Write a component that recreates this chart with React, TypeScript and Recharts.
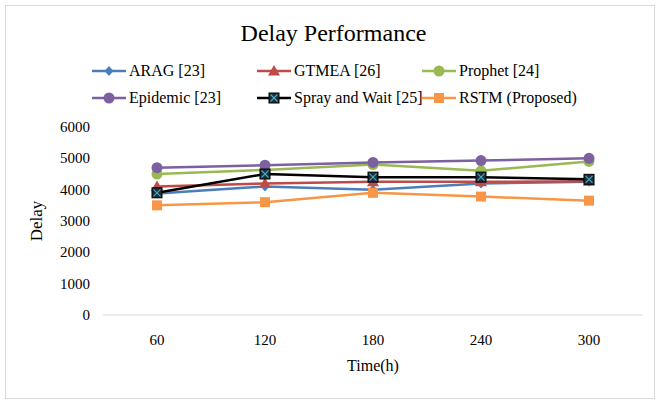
import { LineChart, Line, XAxis, YAxis } from 'recharts';

const times = ['60', '120', '180', '240', '300'];
const arag = [3880, 4100, 4000, 4200, 4250];
const gtmea = [4100, 4200, 4250, 4250, 4270];
const prophet = [4500, 4630, 4800, 4600, 4900];
const epidemic = [4700, 4780, 4870, 4930, 5000];
const sprayWait = [3900, 4500, 4400, 4400, 4330];
const rstm = [3500, 3600, 3900, 3780, 3650];
const yTicks = [0, 1000, 2000, 3000, 4000, 5000, 6000];

const data = times.map((t, i) => ({
  time: t,
  arag: arag[i],
  gtmea: gtmea[i],
  prophet: prophet[i],
  epidemic: epidemic[i],
  spray: sprayWait[i],
  rstm: rstm[i],
}));

type Shape = 'diamond' | 'triangle' | 'circle' | 'square' | 'squareX';

const series: { key: string; name: string; color: string; shape: Shape }[] = [
  { key: 'arag', name: 'ARAG [23]', color: '#4a7ebb', shape: 'diamond' },
  { key: 'gtmea', name: 'GTMEA [26]', color: '#be4b48', shape: 'triangle' },
  { key: 'prophet', name: 'Prophet [24]', color: '#98b954', shape: 'circle' },
  { key: 'epidemic', name: 'Epidemic [23]', color: '#7d60a0', shape: 'circle' },
  { key: 'spray', name: 'Spray and Wait [25]', color: '#000000', shape: 'squareX' },
  { key: 'rstm', name: 'RSTM (Proposed)', color: '#f79646', shape: 'square' },
];

const serif = '"Liberation Serif", "Times New Roman", serif';

function Marker({ cx, cy, color, shape }: { cx: number; cy: number; color: string; shape: Shape }) {
  if (shape === 'diamond') {
    return <polygon points={`${cx},${cy - 5} ${cx + 4.5},${cy} ${cx},${cy + 5} ${cx - 4.5},${cy}`} fill={color} />;
  }
  if (shape === 'triangle') {
    return <polygon points={`${cx},${cy - 6} ${cx + 6},${cy + 4.5} ${cx - 6},${cy + 4.5}`} fill={color} />;
  }
  if (shape === 'circle') {
    return <circle cx={cx} cy={cy} r={5.5} fill={color} />;
  }
  if (shape === 'square') {
    return <rect x={cx - 5} y={cy - 5} width={10} height={10} fill={color} />;
  }
  return (
    <g>
      <rect x={cx - 5} y={cy - 5} width={10} height={10} fill="#1a2f3a" stroke="#000" strokeWidth={1} />
      <line x1={cx - 3.5} y1={cy - 3.5} x2={cx + 3.5} y2={cy + 3.5} stroke="#4bacc6" strokeWidth={1.1} />
      <line x1={cx + 3.5} y1={cy - 3.5} x2={cx - 3.5} y2={cy + 3.5} stroke="#4bacc6" strokeWidth={1.1} />
    </g>
  );
}

const XTick = ({ x, y, payload }: any) => (
  <text x={x} y={y + 12} textAnchor="middle" fill="#000" style={{ fontFamily: serif, fontSize: 15 }}>
    {payload.value}
  </text>
);

const YTick = ({ x, y, payload }: any) => (
  <text x={x} y={y + 5} textAnchor="end" fill="#000" style={{ fontFamily: serif, fontSize: 15 }}>
    {payload.value}
  </text>
);

const legendCols = [92, 257, 422];
const legendRows = [71, 98];

export default function App() {
  return (
    <div
      style={{
        position: 'absolute',
        left: 0,
        top: 0,
        width: 657,
        height: 401,
        background: '#fff',
        fontFamily: serif,
      }}
    >
      <div
        style={{
          position: 'absolute',
          left: 5,
          top: 5,
          width: 650,
          height: 394,
          border: '1px solid #d9d9d9',
          boxSizing: 'border-box',
        }}
      />
      <div
        style={{
          position: 'absolute',
          left: 0,
          top: 18,
          width: 667,
          textAlign: 'center',
          fontSize: 24,
          color: '#000',
          lineHeight: '30px',
        }}
      >
        Delay Performance
      </div>
      <svg style={{ position: 'absolute', left: 0, top: 0 }} width={657} height={120}>
        {series.map((s, i) => {
          const x = legendCols[i % 3];
          const y = legendRows[Math.floor(i / 3)];
          return (
            <g key={s.key}>
              <line x1={x} y1={y} x2={x + 34} y2={y} stroke={s.color} strokeWidth={2.5} />
              <Marker cx={x + 17} cy={y} color={s.color} shape={s.shape} />
              <text x={x + 37} y={y + 5} fill="#000" style={{ fontFamily: serif, fontSize: 16 }}>
                {s.name}
              </text>
            </g>
          );
        })}
      </svg>
      <div style={{ position: 'absolute', left: 0, top: 0 }}>
        <LineChart width={657} height={401} data={data} margin={{ top: 127, right: 14, left: 8, bottom: 0 }}>
          <XAxis
            dataKey="time"
            height={86}
            padding={{ left: 54, right: 54 }}
            axisLine={{ stroke: '#d9d9d9' }}
            tickLine={false}
            tickMargin={12}
            tick={<XTick />}
            label={{
              value: 'Time(h)',
              position: 'insideBottom',
              offset: 30,
              fill: '#000',
              fontSize: 16,
              fontFamily: serif,
            }}
          />
          <YAxis
            width={95}
            domain={[0, 6000]}
            ticks={yTicks}
            axisLine={false}
            tickLine={false}
            tickMargin={7}
            tick={<YTick />}
            label={{
              value: 'Delay',
              angle: -90,
              position: 'center',
              dx: -20,
              fill: '#000',
              fontSize: 17,
              fontFamily: serif,
            }}
          />
          {series.map((s) => (
            <Line
              key={s.key}
              type="linear"
              dataKey={s.key}
              name={s.name}
              stroke={s.color}
              strokeWidth={2.5}
              isAnimationActive={false}
              dot={(p: any) => (
                <Marker key={`${s.key}-${p.index}`} cx={p.cx} cy={p.cy} color={s.color} shape={s.shape} />
              )}
              activeDot={false}
            />
          ))}
        </LineChart>
      </div>
    </div>
  );
}
